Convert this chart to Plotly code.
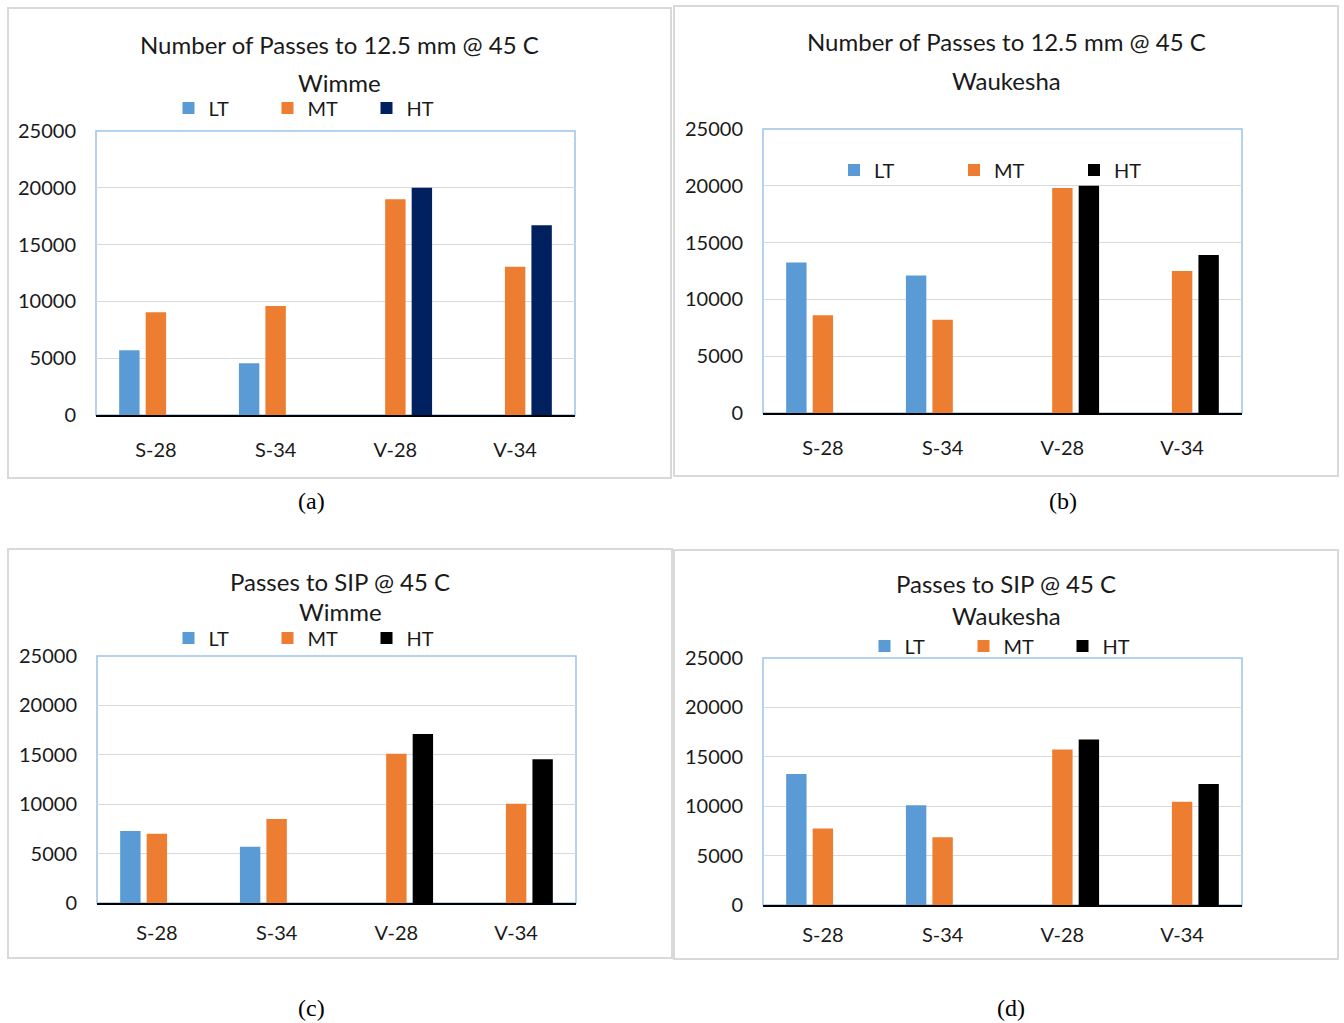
import plotly.graph_objects as go

W, H = 1344, 1023

categories = ["S-28", "S-34", "V-28", "V-34"]
series_names = ["LT", "MT", "HT"]

# (a) Number of Passes to 12.5 mm @ 45 C - Wimme
a_LT = [5700, 4550, None, None]
a_MT = [9050, 9600, 19000, 13050]
a_HT = [None, None, 20000, 16700]
# (b) Number of Passes to 12.5 mm @ 45 C - Waukesha
b_LT = [13250, 12100, None, None]
b_MT = [8600, 8200, 19800, 12500]
b_HT = [None, None, 20000, 13900]
# (c) Passes to SIP @ 45 C - Wimme
c_LT = [7300, 5700, None, None]
c_MT = [7000, 8500, 15100, 10050]
c_HT = [None, None, 17100, 14550]
# (d) Passes to SIP @ 45 C - Waukesha
d_LT = [13250, 10100, None, None]
d_MT = [7750, 6850, 15750, 10450]
d_HT = [None, None, 16750, 12250]

y_ticks = [0, 5000, 10000, 15000, 20000, 25000]

FONT = "Lato"
TXT = "#1a1a1a"
C_LT = "#5B9BD5"
C_MT = "#ED7D31"


def px(x):
    return x / W


def py(y):
    return 1 - y / H


panels = [
    dict(key="", data=(a_LT, a_MT, a_HT), ht="#002060",
         dom=(96, 575, 131, 415), box=(8, 8, 671, 478), xstand=16,
         t1=("Number of Passes to 12.5 mm @ 45 C", 339, 45), t2=("Wimme", 339, 82),
         leg=(317, 108, 54), cap=("(a)", 311, 501)),
    dict(key="2", data=(b_LT, b_MT, b_HT), ht="#000000",
         dom=(763, 1242, 129, 413), box=(674, 6, 1338, 476), xstand=16,
         t1=("Number of Passes to 12.5 mm @ 45 C", 1006, 42), t2=("Waukesha", 1006, 80),
         leg=(1014, 170, 75), cap=("(b)", 1063, 501)),
    dict(key="3", data=(c_LT, c_MT, c_HT), ht="#000000",
         dom=(97, 576, 656, 903), box=(8, 549, 672, 958), xstand=11,
         t1=("Passes to SIP @ 45 C", 340, 581), t2=("Wimme", 340, 611),
         leg=(317, 638, 54), cap=("(c)", 311, 1008)),
    dict(key="4", data=(d_LT, d_MT, d_HT), ht="#000000",
         dom=(763, 1242, 658, 905), box=(674, 550, 1338, 959), xstand=11,
         t1=("Passes to SIP @ 45 C", 1006, 583), t2=("Waukesha", 1006, 615),
         leg=(1013, 646, 54), cap=("(d)", 1011, 1008)),
]

fig = go.Figure()
shapes = []
annotations = []
layout = {}

for p in panels:
    k = p["key"]
    xa = "x" + k
    ya = "y" + k
    lg = "legend" + k
    colors = [C_LT, C_MT, p["ht"]]
    for name, vals, col in zip(series_names, p["data"], colors):
        fig.add_trace(go.Bar(
            x=categories, y=vals, name=name, xaxis=xa, yaxis=ya,
            marker=dict(color=col, line=dict(width=0)),
            legend=lg, showlegend=True, hoverinfo="skip",
        ))
    x0, x1, y0, y1 = p["dom"]
    layout["xaxis" + k] = dict(
        domain=[px(x0), px(x1)], anchor=ya, type="category", automargin=False,
        showline=True, linecolor="#000000", linewidth=2,
        showgrid=False, ticks="", ticklabelstandoff=p["xstand"],
        tickfont=dict(family=FONT, size=20, color=TXT), fixedrange=True,
    )
    layout["yaxis" + k] = dict(
        domain=[py(y1), py(y0)], anchor=xa, range=[0, 25000], automargin=False,
        tickvals=y_ticks, ticktext=[str(v) for v in y_ticks],
        showgrid=True, gridcolor="#D9D9D9", gridwidth=1, zeroline=False,
        showline=False, ticks="", ticklabelstandoff=19,
        tickfont=dict(family=FONT, size=20, color=TXT), fixedrange=True,
    )
    lx, ly, ew = p["leg"]
    layout[lg] = dict(
        orientation="h", x=px(lx), y=py(ly), xanchor="center", yanchor="middle",
        xref="paper", yref="paper", entrywidth=ew, entrywidthmode="pixels",
        font=dict(family=FONT, size=20, color=TXT), bgcolor="rgba(0,0,0,0)",
        itemclick=False, itemdoubleclick=False, traceorder="normal",
    )
    # plot area border (light blue)
    shapes.append(dict(type="rect", xref=xa + " domain", yref=ya + " domain",
                       x0=0, x1=1, y0=0, y1=1, layer="below",
                       line=dict(color="#9DC3E6", width=1.5)))
    # panel border
    bx0, by0, bx1, by1 = p["box"]
    shapes.append(dict(type="rect", xref="paper", yref="paper",
                       x0=px(bx0), x1=px(bx1), y0=py(by1), y1=py(by0),
                       line=dict(color="#D9D9D9", width=2)))
    for (t, tx, ty) in (p["t1"], p["t2"]):
        annotations.append(dict(text=t, x=px(tx), y=py(ty), xref="paper", yref="paper",
                                xanchor="center", yanchor="middle", showarrow=False,
                                borderpad=0,
                                font=dict(family=FONT, size=24, color=TXT)))
    ct, cx, cy = p["cap"]
    annotations.append(dict(text=ct, x=px(cx), y=py(cy), xref="paper", yref="paper",
                            xanchor="center", yanchor="middle", showarrow=False,
                            font=dict(family="Liberation Serif", size=24, color="#000000")))

fig.update_layout(
    width=W, height=H, margin=dict(l=0, r=0, t=0, b=0, autoexpand=False),
    paper_bgcolor="white", plot_bgcolor="white",
    barmode="group", bargap=0.336, bargroupgap=0.23,
    shapes=shapes, annotations=annotations, **layout,
)

fig.write_html("out.html", config={"displayModeBar": False},
               post_script="document.body.style.margin='0';")
